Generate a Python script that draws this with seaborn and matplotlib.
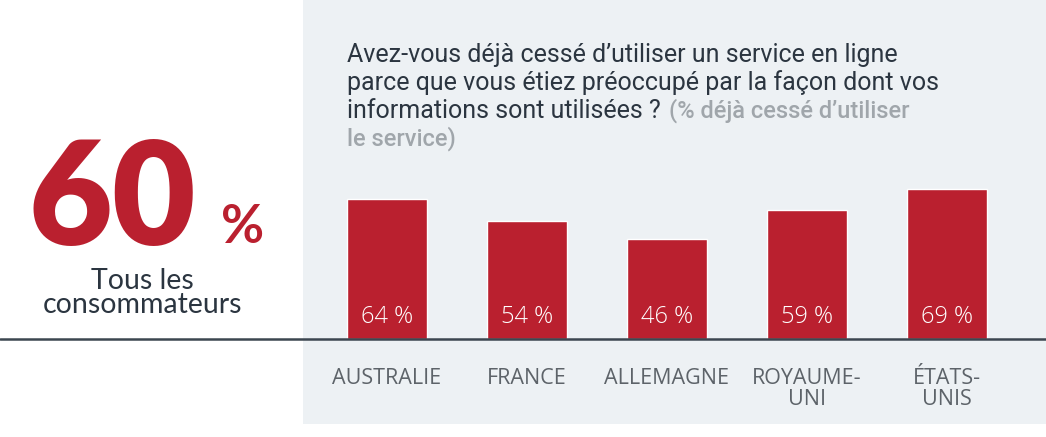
import matplotlib
matplotlib.use("Agg")
import matplotlib.pyplot as plt
import seaborn as sns
import pandas as pd
from matplotlib.patches import Rectangle
from matplotlib.lines import Line2D

# ---- data ----
countries = ["AUSTRALIE", "FRANCE", "ALLEMAGNE", "ROYAUME-\nUNI", "ÉTATS-\nUNIS"]
values = [64, 54, 46, 59, 69]
value_labels = ["64 %", "54 %", "46 %", "59 %", "69 %"]
overall_value = "60"
overall_unit = "%"
overall_label_lines = ["Tous les", "consommateurs"]
title_lines = [
    "Avez-vous déjà cessé d’utiliser un service en ligne",
    "parce que vous étiez préoccupé par la façon dont vos",
    "informations sont utilisées ?",
]
subtitle_line3 = "(% déjà cessé d’utiliser"
subtitle_line4 = "le service)"

RED = "#BA202F"
PANEL = "#EDF1F4"
DARK = "#2B3540"
GRAY_TICK = "#5D6369"
GRAY_SUB = "#A0A6AB"
AXLINE = "#3C4650"

W, H = 1046, 437
sns.set_theme(style="white")
plt.rcParams["font.family"] = ["Roboto", "DejaVu Sans"]

fig = plt.figure(figsize=(W / 100, H / 100), dpi=100)
fig.patch.set_facecolor("white")

def fx(px):
    return px / W

def fy(py):
    return 1 - py / H

# right panel
fig.patches.append(Rectangle((fx(303), fy(424)), fx(1046) - fx(303), fy(0) - fy(424),
                             transform=fig.transFigure, facecolor=PANEL, edgecolor="none", zorder=-5))

# axes for bars
base = 339
ppu = 2.18
ax = fig.add_axes([fx(303), fy(base), fx(1046) - fx(303), fy(0) - fy(base)])
ax.set_zorder(2)
ax.patch.set_alpha(0)
df = pd.DataFrame({"country": countries, "value": values})
sns.barplot(data=df, x="country", y="value", color=RED, saturation=1, width=0.565, ax=ax)
ax.set_xlim(-0.6, 4 + 99 / 140)
ax.set_ylim(0, base / ppu)
for s in ax.spines.values():
    s.set_visible(False)
ax.set_yticks([])
ax.set_xlabel("")
ax.set_ylabel("")
ax.tick_params(axis="x", length=0, pad=21)
for lab in ax.get_xticklabels():
    lab.set_fontfamily(["Open Sans", "DejaVu Sans"])
    lab.set_fontsize(15.5)
    lab.set_color(GRAY_TICK)
    lab.set_linespacing(1.02)
for i, t in enumerate(value_labels):
    ax.text(i, 22 / ppu, t, ha="center", va="center", color="white",
            fontsize=17, fontfamily=["Open Sans", "DejaVu Sans"], fontweight="light")

# baseline across full width
fig.lines.append(Line2D([0, 1], [fy(base), fy(base)], transform=fig.transFigure,
                        color=AXLINE, linewidth=1.8, zorder=5))

# title
title_y = [62, 90, 118]
tfs = 18
texts = []
for ln, yy in zip(title_lines, title_y):
    texts.append(fig.text(fx(347), fy(yy), ln, ha="left", va="baseline", fontsize=tfs, color=DARK))
fig.canvas.draw()
r = fig.canvas.get_renderer()
bb = texts[2].get_window_extent(renderer=r)
fig.text(fx(bb.x1 + 8), fy(118), subtitle_line3, ha="left", va="baseline", fontsize=17,
         color=GRAY_SUB, fontweight="medium")
fig.text(fx(347), fy(146), subtitle_line4, ha="left", va="baseline", fontsize=17,
         color=GRAY_SUB, fontweight="medium")

# left big number
fig.text(fx(196), fy(245), overall_value, ha="right", va="baseline", fontsize=104,
         color=RED, fontfamily=["Lato", "DejaVu Sans"], fontweight="heavy")
fig.text(fx(221), fy(243), overall_unit, ha="left", va="baseline", fontsize=38,
         color=RED, fontfamily=["Lato", "DejaVu Sans"], fontweight="bold")
for ln, yy in zip(overall_label_lines, [289, 313]):
    fig.text(fx(142), fy(yy), ln, ha="center", va="baseline", fontsize=20.5,
             color=DARK, fontfamily=["Lato", "DejaVu Sans"])

fig.savefig("out.png", dpi=100, facecolor="white")
